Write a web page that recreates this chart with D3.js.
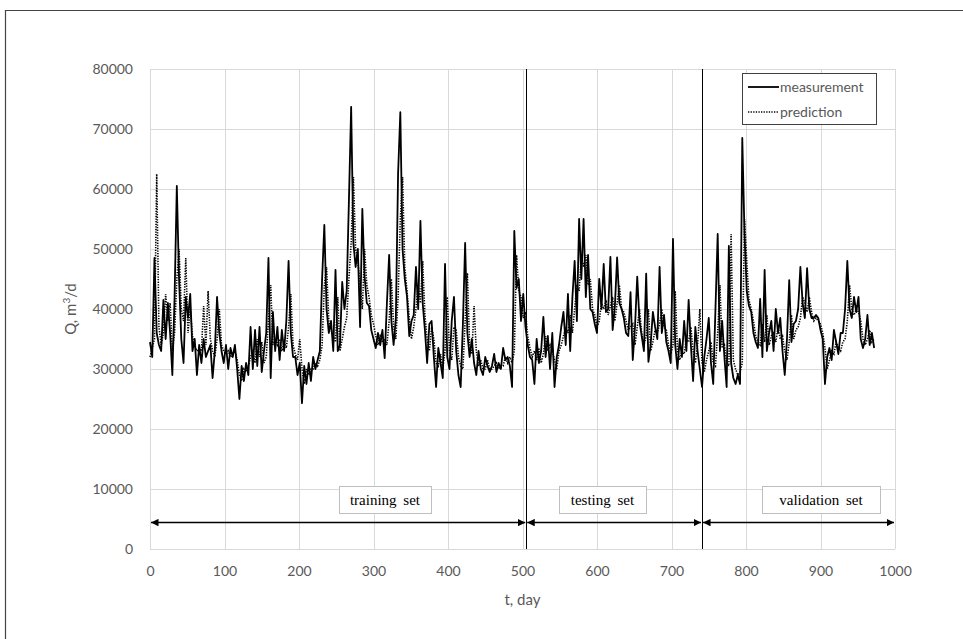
<!DOCTYPE html>
<html lang="en">
  <head>
    <meta charset="utf-8">
    <title>Q vs t</title>
    <style>
      body { margin: 0; background: #fff; }
      svg { display: block; }
    </style>
  </head>
  <body>
    <svg width="963" height="639"></svg>
  </body>
  <script src="https://cdn.jsdelivr.net/npm/d3@7"></script>
  <script type="text/javascript">

    // daily flow, sampled every 3 days (t = 0, 3, 6, ...)
    const dayStep = 3
    const measurement = [
      34500,32000,48500,36000,34000,33000,41500,35000,41000,36000,
      29000,42000,60500,45000,35000,31000,42000,38500,42500,33000,
      35000,29000,34000,31000,35000,32000,33000,34000,28500,33000,
      42000,36000,33000,31000,34000,30000,33500,32000,34000,30000,
      25000,30500,28000,31000,29000,37000,30000,36500,30500,37000,
      29500,33000,36000,48500,28500,39500,33000,37000,31500,36500,
      33000,38000,48000,36000,32000,32000,29000,31000,24300,30500,
      27500,31000,28000,32000,30000,31500,33000,45000,54000,40000,
      36000,38000,33000,46500,33000,34000,44500,40000,43000,58000,
      73700,51000,47000,50000,37000,56700,45500,41000,40500,36500,
      35000,33500,36000,34000,36500,31800,41000,49000,38000,34000,
      38500,62600,72800,50000,45000,42000,35500,38000,39000,47000,
      40000,54700,41000,36500,31000,37500,38000,32000,27000,33500,
      31000,28500,47500,32000,30000,38000,42000,33000,29000,27000,
      37500,51000,36000,32000,35000,31000,29000,33000,30000,29000,
      32000,30500,29500,30500,32500,29500,31000,30000,33500,31500,
      32000,30500,27000,53000,43500,45000,38000,42500,37000,34000,
      32000,31500,27500,35000,31000,33000,38700,32000,35500,30000,
      36000,27000,32000,34000,37000,39500,34000,42500,33000,42000,
      48000,38000,55000,45000,55000,42000,49000,40000,39500,37500,
      36000,45000,40000,47500,39500,40000,48700,36500,40500,48600,
      41000,40000,38500,36000,35500,42800,31500,37000,45400,38000,
      35500,33000,45900,31200,34000,39500,37000,35000,47000,36000,
      39000,34500,33000,31000,51700,34000,30000,35000,32000,38000,
      33000,41500,34000,28000,37000,33000,30000,27000,32000,35000,
      38500,31000,27500,40000,52500,33000,38000,32000,27000,50500,
      31000,28500,27500,29000,27500,68500,52500,43000,40500,39500,
      36000,34500,33500,41700,32000,46500,33000,36000,38000,33000,
      40000,36000,38500,33000,29000,35000,44800,34500,37500,38000,
      40000,47000,41000,38500,46800,40000,38500,38500,39000,38500,
      36500,35000,27500,32000,33500,31500,36500,34500,32500,36000,
      36000,40000,48000,40000,38500,42000,39500,42000,35000,33500,
      35000,39000,34000,36000,33500
    ]
    const prediction = [
      32000,33500,35000,62500,37000,34000,36000,42500,38000,41000,
      33000,36000,45000,50000,40000,38000,48500,36000,40000,35500,
      34000,33000,33500,33000,40500,34000,43000,35000,33000,32000,
      35000,40000,34000,33000,32500,33000,32000,32500,33000,31500,
      29000,28000,30000,29500,30500,32000,33000,31000,35000,32000,
      34500,31000,32000,38000,44000,34000,35000,34000,35000,33000,
      34500,33500,37000,42500,34000,32500,31500,35000,30000,27500,
      30000,29000,30000,30000,31000,30500,31500,34000,44000,47000,
      38000,36500,35500,34500,42000,33000,35000,37000,38500,45000,
      51000,62000,50000,48000,44000,40000,50000,44000,42000,39000,
      37500,35500,34000,35500,34500,35000,34000,38000,45000,37000,
      35000,42000,55000,62000,47000,43000,38500,35000,37000,40000,
      44000,41000,48000,39000,35000,33000,37000,35000,31000,30500,
      32500,30000,33000,42000,33000,31500,37000,36500,32000,30500,
      30000,38000,46000,34000,32500,40500,33000,30500,31500,30000,
      30000,31500,30000,30000,30500,31000,30000,30500,30500,32000,
      31000,32000,31000,33000,49000,43000,42000,38500,39500,35500,
      33500,32000,33000,31500,33500,31000,32500,35500,33000,34000,
      33000,31500,30000,33000,34000,35500,37000,36000,39000,36000,
      40000,44000,43000,49000,47000,49000,44000,45000,40000,39000,
      37000,38000,41000,40000,41500,39000,40500,42000,38000,41000,
      44000,40000,39500,38000,36500,37000,37500,34000,37000,40000,
      36000,34000,35500,40000,33000,34500,36500,36000,37500,40000,
      37000,36500,34000,32500,34000,43000,33000,31500,33000,32500,
      35000,34500,37000,33000,31000,34000,40000,31000,29500,31500,
      33000,34500,31000,30500,36000,44000,33500,34000,31000,30500,
      52500,31500,30000,29000,29500,31000,55000,48000,41500,40000,
      38000,35500,34500,34000,37500,34500,39000,34000,35500,36000,
      34500,37000,35000,35500,33000,31500,34500,39000,35000,36500,
      37000,38500,42000,41000,39500,42000,39500,38000,38500,38000,
      37500,36000,33500,30000,31500,33000,32500,34500,33500,33000,
      34500,35000,38000,44000,40000,39000,40000,39500,38000,35000,
      34000,35000,36500,34500,35000
    ]
    const days = measurement.map((d, i) => i * dayStep)

    const xTicks = [0,100,200,300,400,500,600,700,800,900,1000]
    const yTicks = [0,10000,20000,30000,40000,50000,60000,70000,80000]

    // split points between the data sets (days) and their labels
    const splits = [505, 741]
    const sets = [
      {name: "training set",   from: 0,   to: 505,  box: [339, 431]},
      {name: "testing set",    from: 505, to: 741,  box: [559, 646]},
      {name: "validation set", from: 741, to: 1000, box: [762, 880]}
    ]

    const svg = d3.select("svg"),
          fontSans = "Lato, 'Open Sans', sans-serif",
          grey = "#595959",
          gridCol = "#d9d9d9"

    const x = d3.scaleLinear().domain([0, 1000]).range([150, 895]),
          y = d3.scaleLinear().domain([0, 80000]).range([549, 69])

    // outer frame (figure is cropped on the right and bottom)
    svg.append("path")
      .attr("d", "M5.5,639 V10.5 H963")
      .attr("fill", "none")
      .attr("stroke", "#444")
      .attr("stroke-width", 1.2)

    // grid
    svg.append("g").selectAll("line")
      .data(yTicks)
      .enter().append("line")
        .attr("x1", x(0)).attr("x2", x(1000))
        .attr("y1", d => Math.round(y(d)) + 0.5).attr("y2", d => Math.round(y(d)) + 0.5)
        .attr("stroke", gridCol)

    svg.append("g").selectAll("line")
      .data(xTicks)
      .enter().append("line")
        .attr("x1", d => Math.round(x(d)) + 0.5).attr("x2", d => Math.round(x(d)) + 0.5)
        .attr("y1", y(0)).attr("y2", y(80000))
        .attr("stroke", gridCol)

    // axes, only labels visible
    const xAxis = svg.append("g")
      .attr("transform", `translate(0,${y(0) + 14})`)
      .call(d3.axisBottom(x).tickValues(xTicks).tickSize(0).tickFormat(d3.format("d")))
    const yAxis = svg.append("g")
      .attr("transform", `translate(${x(0) - 14},0)`)
      .call(d3.axisLeft(y).tickValues(yTicks).tickSize(0).tickFormat(d3.format("d")))
    ;[xAxis, yAxis].forEach(a => {
      a.select(".domain").remove()
      a.selectAll("text")
        .style("font-family", fontSans)
        .style("font-size", "14px")
        .style("fill", grey)
    })

    // axis titles
    svg.append("text")
      .text("t, day")
      .attr("x", x(500)).attr("y", 605)
      .attr("text-anchor", "middle")
      .style("font-family", fontSans).style("font-size", "15px").style("fill", grey)

    const yTitle = svg.append("text")
      .attr("transform", `translate(76,${y(40000)}) rotate(-90)`)
      .attr("text-anchor", "middle")
      .style("font-family", fontSans).style("font-size", "15px").style("fill", grey)
    yTitle.append("tspan").text("Q, m")
    yTitle.append("tspan").text("3").attr("dy", -6).style("font-size", "10px")
    yTitle.append("tspan").text("/d").attr("dy", 6)

    // series
    const line = d3.line().x((d, i) => x(days[i])).y(d => y(d))

    svg.append("path")
      .datum(measurement)
      .attr("d", line)
      .attr("fill", "none")
      .attr("stroke", "#000")
      .attr("stroke-width", 1.8)
      .attr("stroke-linejoin", "round")

    svg.append("path")
      .datum(prediction)
      .attr("d", line)
      .attr("fill", "none")
      .attr("stroke", "#000")
      .attr("stroke-width", 1.6)
      .attr("stroke-dasharray", "1.3,1.3")

    // split lines
    svg.append("g").selectAll("line")
      .data(splits)
      .enter().append("line")
        .attr("x1", d => Math.round(x(d)) + 0.5).attr("x2", d => Math.round(x(d)) + 0.5)
        .attr("y1", y(0)).attr("y2", y(80000))
        .attr("stroke", "#000")

    // arrow heads
    const defs = svg.append("defs")
    defs.append("marker")
      .attr("id", "arrowEnd")
      .attr("viewBox", "0 0 10 10")
      .attr("refX", 10).attr("refY", 5)
      .attr("markerWidth", 5).attr("markerHeight", 5)
      .attr("markerUnits", "strokeWidth")
      .attr("orient", "auto-start-reverse")
      .append("path").attr("d", "M0,0 L10,5 L0,10 Z").attr("fill", "#000")

    const arrowY = y(4400)
    svg.append("g").selectAll("line")
      .data(sets)
      .enter().append("line")
        .attr("x1", d => x(d.from) + 1).attr("x2", d => x(d.to) - 1)
        .attr("y1", arrowY).attr("y2", arrowY)
        .attr("stroke", "#000")
        .attr("stroke-width", 1.5)
        .attr("marker-start", "url(#arrowEnd)")
        .attr("marker-end", "url(#arrowEnd)")

    // set labels
    const labels = svg.append("g").selectAll("g")
      .data(sets)
      .enter().append("g")
    labels.append("rect")
      .attr("x", d => d.box[0] + 0.5).attr("y", 486.5)
      .attr("width", d => d.box[1] - d.box[0]).attr("height", 27)
      .attr("fill", "#fff")
      .attr("stroke", "#bfbfbf")
    labels.append("text")
      .text(d => d.name)
      .attr("x", d => (d.box[0] + d.box[1]) / 2).attr("y", 505)
      .attr("text-anchor", "middle")
      .style("font-family", "'Liberation Serif', 'Times New Roman', serif")
      .style("font-size", "15px")
      .style("word-spacing", "3px")
      .style("fill", "#000")

    // legend
    const legend = svg.append("g")
    legend.append("rect")
      .attr("x", 742.5).attr("y", 73.5)
      .attr("width", 134).attr("height", 51)
      .attr("fill", "#fff")
      .attr("stroke", "#404040")
    const legendItems = [
      {name: "measurement", dash: null, w: 1.8},
      {name: "prediction", dash: "1.3,1.3", w: 1.6}
    ]
    legendItems.forEach((it, i) => {
      const ly = 87 + i * 25
      legend.append("line")
        .attr("x1", 748).attr("x2", 779)
        .attr("y1", ly).attr("y2", ly)
        .attr("stroke", "#000")
        .attr("stroke-width", it.w)
        .attr("stroke-dasharray", it.dash)
      legend.append("text")
        .text(it.name)
        .attr("x", 780).attr("y", ly + 5)
        .style("font-family", fontSans).style("font-size", "14px").style("fill", grey)
    })

  </script>
</html>
